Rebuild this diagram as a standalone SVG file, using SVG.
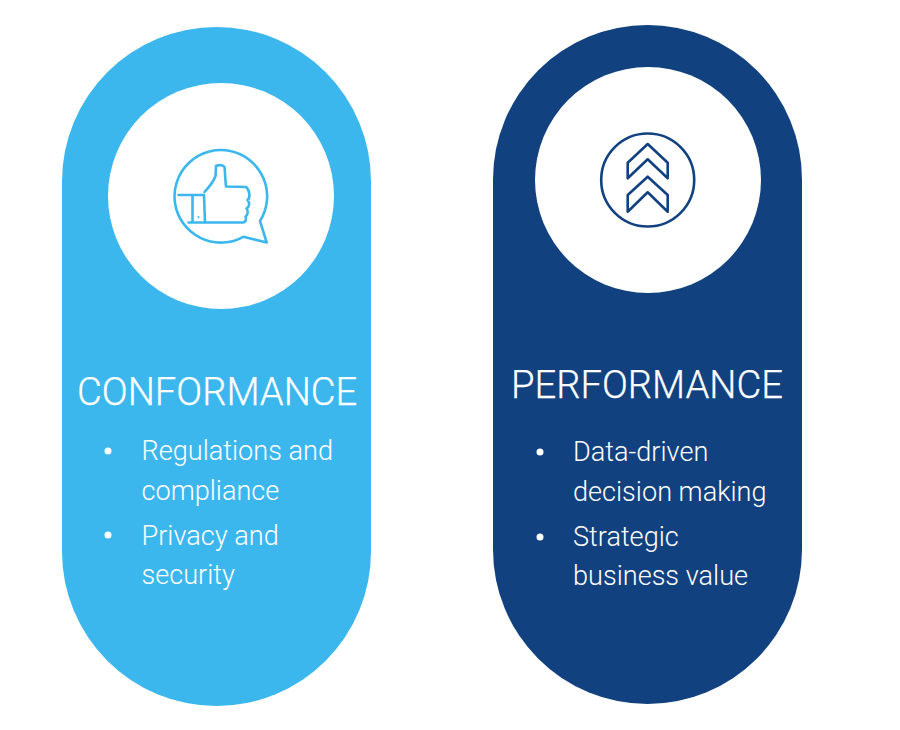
<svg xmlns="http://www.w3.org/2000/svg" width="900" height="730" viewBox="0 0 900 730">
<style>
.h{font-family:Roboto,"Liberation Sans",sans-serif;font-weight:300;font-size:38.200px;fill:#fff;stroke:#fff;stroke-width:.25}
.b{font-family:Roboto,"Liberation Sans",sans-serif;font-weight:300;font-size:27.100px;fill:#fff}
.i{fill:none;stroke-width:2.600;stroke-linejoin:round;stroke-linecap:round}
</style>
<rect width="900" height="730" fill="#fff"/>
<g id="conformance">
<rect x="62" y="27" width="309" height="679" rx="154.500" fill="#3cb7ee"/>
<circle cx="221" cy="196" r="113" fill="#fff"/>
<g class="i" stroke="#3cb7ee">
<path d="M243.300 236.800L266.700 242.500L260 221A46.300 46.300 0 1 0 243.300 236.800Z"/>
<path d="M178.500 195H204M192.500 195V222.500M204 195L205 222.500M188.500 222.500H243C246 222.500 246.500 219 245.500 216.500C248 215 248.500 211 246.500 208.500C249.500 207 250 202.500 247.500 200C250.500 198 250 190 246 187L226 186.500C225 178 225 170 224.500 167C223.500 165 219 164.500 216 166L215.500 176C213 183 209 187 204.500 192"/>
</g>
<circle cx="198.500" cy="217" r="1" fill="#3cb7ee"/>
<text class="h" x="77" y="405">CONFORMANCE</text>
<circle cx="108" cy="451" r="3.500" fill="#fff"/>
<text class="b" x="141.500" y="460">Regulations and</text>
<text class="b" x="141.500" y="499.500">compliance</text>
<circle cx="108" cy="535" r="3.500" fill="#fff"/>
<text class="b" x="141.500" y="545">Privacy and</text>
<text class="b" x="141.500" y="584">security</text>
</g>
<g id="performance">
<rect x="493" y="25" width="309" height="679" rx="154.500" fill="#12417f"/>
<circle cx="648" cy="180" r="113" fill="#fff"/>
<g class="i" stroke="#12417f">
<circle cx="647.700" cy="180" r="46.500"/>
<path d="M627.700 162.700L647.700 144L667.700 162.700V178.300L647.700 159.300L627.700 178.300Z"/>
<path d="M627.700 195L647.700 176.700L667.700 195V211.700L647.700 192.300L627.700 211.700Z"/>
</g>
<text class="h" x="511" y="398">PERFORMANCE</text>
<circle cx="540" cy="452" r="3.500" fill="#fff"/>
<text class="b" x="573" y="461">Data-driven</text>
<text class="b" x="573" y="500.500">decision making</text>
<circle cx="540" cy="537" r="3.500" fill="#fff"/>
<text class="b" x="573" y="546">Strategic</text>
<text class="b" x="573" y="585">business value</text>
</g>
<g id="connectors"/>
</svg>
